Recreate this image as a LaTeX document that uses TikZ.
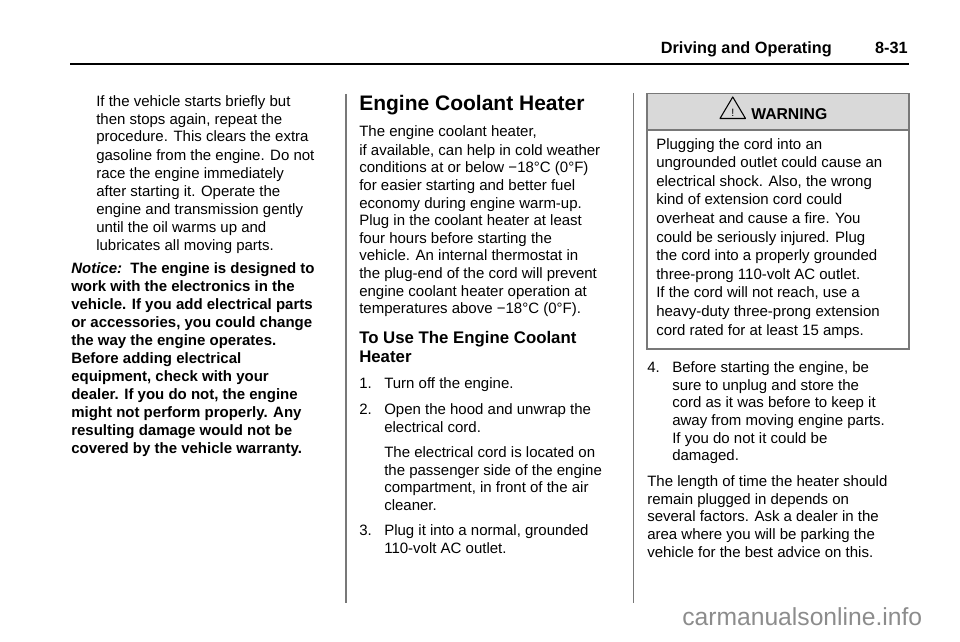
\documentclass[tikz,border=0pt]{standalone}
\usepackage{fontspec}
\setmainfont{Liberation Sans}
\definecolor{rulegray}{RGB}{120,120,120}
\definecolor{boxgray}{RGB}{217,217,217}
\definecolor{markgray}{RGB}{140,140,140}
\newcommand{\bodyfont}{\fontsize{11.25}{13.5}\selectfont}
\tikzset{
  txt/.style={anchor=base west, inner sep=0pt, font=\bodyfont},
  boldtxt/.style={txt, font=\bodyfont\bfseries},
}
\begin{document}
\begin{tikzpicture}[x=0.75pt,y=0.75pt,yscale=-1,xscale=1]
\useasboundingbox (0,0) rectangle (960,642);

% Header
\node[anchor=base east, inner sep=0pt, font=\fontsize{12.2}{14}\selectfont\bfseries] (hd) at (832,54) {Driving and Operating};
\node[anchor=base east, inner sep=0pt, font=\fontsize{12.2}{14}\selectfont\bfseries] (pg) at (908,54) {8-31};
\draw[line width=2pt] (70,64) -- (909,64);

% Column dividers
\draw[rulegray, line width=1pt] (346,94) -- (346,603);
\draw[rulegray, line width=1pt] (633.5,93) -- (633.5,603);

% Column 1
\node[txt] (a1) at (96,106) {If the vehicle starts briefly but};
\node[txt] (a2) at (96,124) {then stops again, repeat the};
\node[txt] (a3) at (96,142) {procedure. This clears the extra};
\node[txt] (a4) at (96,160) {gasoline from the engine. Do not};
\node[txt] (a5) at (96,178) {race the engine immediately};
\node[txt] (a6) at (96,196) {after starting it. Operate the};
\node[txt] (a7) at (96,214) {engine and transmission gently};
\node[txt] (a8) at (96,232) {until the oil warms up and};
\node[txt] (a9) at (96,250) {lubricates all moving parts.};
\node[boldtxt] (n1) at (71,273) {\textit{Notice:}\ \ The engine is designed to};
\node[boldtxt] (n2) at (71,291) {work with the electronics in the};
\node[boldtxt] (n3) at (71,309) {vehicle. If you add electrical parts};
\node[boldtxt] (n4) at (71,327) {or accessories, you could change};
\node[boldtxt] (n5) at (71,345) {the way the engine operates.};
\node[boldtxt] (n6) at (71,363) {Before adding electrical};
\node[boldtxt] (n7) at (71,381) {equipment, check with your};
\node[boldtxt] (n8) at (71,399) {dealer. If you do not, the engine};
\node[boldtxt] (n9) at (71,417) {might not perform properly. Any};
\node[boldtxt] (n10) at (71,435) {resulting damage would not be};
\node[boldtxt] (n11) at (71,453) {covered by the vehicle warranty.};

% Column 2
\node[anchor=base west, inner sep=0pt, font=\fontsize{15.75}{18}\selectfont\bfseries] (h1) at (359,110) {Engine Coolant Heater};
\node[txt] (b1) at (359,137) {The engine coolant heater,};
\node[txt] (b2) at (359,155) {if available, can help in cold weather};
\node[txt] (b3) at (359,172.5) {conditions at or below −18°C (0°F)};
\node[txt] (b4) at (359,190.5) {for easier starting and better fuel};
\node[txt] (b5) at (359,208) {economy during engine warm-up.};
\node[txt] (b6) at (359,225.5) {Plug in the coolant heater at least};
\node[txt] (b7) at (359,243) {four hours before starting the};
\node[txt] (b8) at (359,260.5) {vehicle. An internal thermostat in};
\node[txt] (b9) at (359,278.5) {the plug-end of the cord will prevent};
\node[txt] (b10) at (359,296.5) {engine coolant heater operation at};
\node[txt] (b11) at (359,313.5) {temperatures above −18°C (0°F).};
\node[anchor=base west, inner sep=0pt, font=\fontsize{12.6}{14}\selectfont\bfseries] (h2) at (359,343) {To Use The Engine Coolant};
\node[anchor=base west, inner sep=0pt, font=\fontsize{12.6}{14}\selectfont\bfseries] (h3) at (359,362) {Heater};
\node[txt] (s1n) at (359,388) {1.};
\node[txt] (s1) at (384,388) {Turn off the engine.};
\node[txt] (s2n) at (359,414) {2.};
\node[txt] (s2) at (384,414) {Open the hood and unwrap the};
\node[txt] (s2b) at (384,432) {electrical cord.};
\node[txt] (c1) at (384,457) {The electrical cord is located on};
\node[txt] (c2) at (384,475) {the passenger side of the engine};
\node[txt] (c3) at (384,492.5) {compartment, in front of the air};
\node[txt] (c4) at (384,510) {cleaner.};
\node[txt] (s3n) at (359,535.5) {3.};
\node[txt] (s3) at (384,535.5) {Plug it into a normal, grounded};
\node[txt] (s3b) at (384,553.5) {110-volt AC outlet.};

% Column 3: warning box
\draw[rulegray, fill=boxgray, line width=1pt] (647,93.3) rectangle (909,130);
\draw[rulegray, line width=1pt] (647,130) rectangle (909,349);
\draw[line width=0.8pt, line join=round] (720,118.5) -- (745.5,118.5) -- (732.75,97) -- cycle;
\node[anchor=base, inner sep=0pt, font=\fontsize{8}{9}\selectfont] (ex) at (732.75,116.5) {!};
\node[anchor=base west, inner sep=0pt, font=\fontsize{11.8}{14}\selectfont\bfseries] (wn) at (751,119.3) {WARNING};
\node[txt] (w1) at (656,149) {Plugging the cord into an};
\node[txt] (w2) at (656,167.6) {ungrounded outlet could cause an};
\node[txt] (w3) at (656,186.2) {electrical shock. Also, the wrong};
\node[txt] (w4) at (656,204.8) {kind of extension cord could};
\node[txt] (w5) at (656,223.4) {overheat and cause a fire. You};
\node[txt] (w6) at (656,242) {could be seriously injured. Plug};
\node[txt] (w7) at (656,260.6) {the cord into a properly grounded};
\node[txt] (w8) at (656,279.2) {three-prong 110-volt AC outlet.};
\node[txt] (w9) at (656,297.8) {If the cord will not reach, use a};
\node[txt] (w10) at (656,316.4) {heavy-duty three-prong extension};
\node[txt] (w11) at (656,335) {cord rated for at least 15 amps.};

\node[txt] (s4n) at (647,372.7) {4.};
\node[txt] (s4) at (672,372.7) {Before starting the engine, be};
\node[txt] (s4b) at (672,390.3) {sure to unplug and store the};
\node[txt] (s4c) at (672,407.9) {cord as it was before to keep it};
\node[txt] (s4d) at (672,425.5) {away from moving engine parts.};
\node[txt] (s4e) at (672,443.1) {If you do not it could be};
\node[txt] (s4f) at (672,460.7) {damaged.};
\node[txt] (e1) at (647,486.7) {The length of time the heater should};
\node[txt] (e2) at (647,504.3) {remain plugged in depends on};
\node[txt] (e3) at (647,521.9) {several factors. Ask a dealer in the};
\node[txt] (e4) at (647,539.5) {area where you will be parking the};
\node[txt] (e5) at (647,557.1) {vehicle for the best advice on this.};

% Watermark
\node[anchor=base west, inner sep=0pt, text=markgray, font=\fontsize{18.5}{20}\selectfont] (wm) at (682,625) {carmanualsonline.info};
\end{tikzpicture}
\end{document}
